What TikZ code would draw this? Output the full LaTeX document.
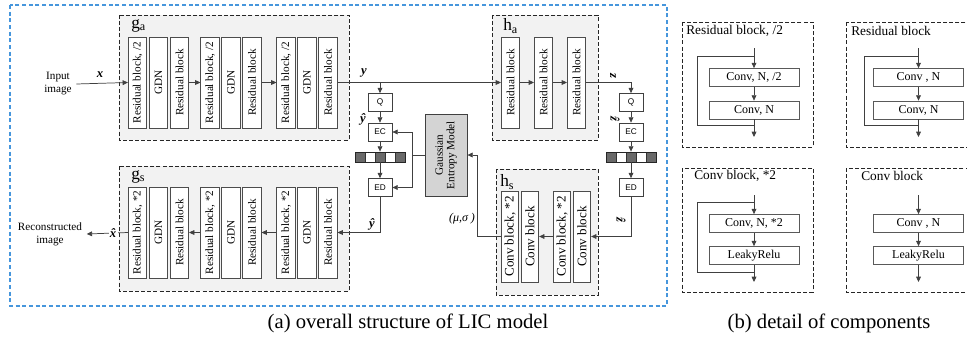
\documentclass[tikz,border=0pt]{standalone}
\usepackage{fontspec}
\setmainfont{Liberation Serif}
\newfontfamily\arialfont{Liberation Sans}
\usetikzlibrary{arrows.meta}
\definecolor{frameblue}{RGB}{70,150,220}
\definecolor{grpgray}{RGB}{242,242,242}
\definecolor{gemgray}{RGB}{212,212,212}
\definecolor{cellgray}{RGB}{105,105,105}

\begin{document}
\begin{tikzpicture}[x=0.75pt,y=-0.75pt,>={Triangle[length=4pt,width=3.6pt]},line join=miter,
  font=\fontsize{8.4}{9.8}\selectfont,
  grp/.style={draw=black!85,dash pattern=on 3pt off 1.6pt,line width=0.65pt,fill=grpgray},
  pnl/.style={draw=black!85,dash pattern=on 3pt off 1.6pt,line width=0.65pt},
  blk/.style={draw=black!70,fill=white,line width=0.5pt,minimum width=13.8pt,minimum height=68.25pt,inner sep=0pt},
  hblk/.style={blk,minimum width=13.2pt,font=\fontsize{9.8}{11}\selectfont},
  cod/.style={draw=black!75,fill=white,line width=0.55pt,minimum width=18pt,minimum height=13.5pt,inner sep=0pt,font=\arialfont\fontsize{6.2}{7}\selectfont},
  gem/.style={draw=black!75,fill=gemgray,line width=0.6pt,minimum width=31.5pt,minimum height=61.5pt,inner sep=0pt},
  cbox/.style={draw=black!65,fill=white,line width=0.55pt,minimum width=67.5pt,minimum height=13.5pt,inner sep=0pt,font=\fontsize{9}{10}\selectfont},
  cell/.style={draw=black!80,line width=0.5pt,fill=cellgray},
  wcell/.style={draw=black!80,line width=0.5pt,fill=white},
  barbox/.style={draw=black!85,line width=0.6pt,minimum width=37.5pt,minimum height=7.5pt,inner sep=0pt},
  var/.style={inner sep=1pt,font=\fontsize{9.5}{11}\selectfont\bfseries\itshape},
  ttl/.style={anchor=west,inner sep=0pt,font=\fontsize{10}{12}\selectfont},
  sub/.style={anchor=west,inner sep=0pt,font=\fontsize{13}{15}\selectfont},
  con/.style={draw=black!75,line width=0.55pt}]
\useasboundingbox (0,0) rectangle (967,339);

% (a) overall structure
\draw[frameblue,line width=0.8pt,dash pattern=on 3pt off 2pt] (10,5) rectangle (667,306);
\draw[grp] (119,15) rectangle (349,140);
\draw[grp] (119,166) rectangle (349,291);
\draw[grp] (492,15) rectangle (598,140);
\draw[grp] (496,169) rectangle (598,295);
\node[sub] (gal) at (131,26) {g\textsubscript{a}};
\node[sub] (gsl) at (131,177) {g\textsubscript{s}};
\node[sub] (hal) at (503,26) {h\textsubscript{a}};
\node[sub] (hsl) at (500,182) {h\textsubscript{s}};

% analysis transform
\node[blk] (ga1) at (137.5,82.5) {\rotatebox{90}{Residual block, /2}};
\node[blk] (ga2) at (158.5,82.5) {\rotatebox{90}{GDN}};
\node[blk] (ga3) at (179.5,82.5) {\rotatebox{90}{Residual block}};
\node[blk] (ga4) at (210,82.5) {\rotatebox{90}{Residual block, /2}};
\node[blk] (ga5) at (231,82.5) {\rotatebox{90}{GDN}};
\node[blk] (ga6) at (252,82.5) {\rotatebox{90}{Residual block}};
\node[blk] (ga7) at (286,82.5) {\rotatebox{90}{Residual block, /2}};
\node[blk] (ga8) at (307,82.5) {\rotatebox{90}{GDN}};
\node[blk] (ga9) at (328,82.5) {\rotatebox{90}{Residual block}};

% synthesis transform
\node[blk] (gs1) at (137.5,232.5) {\rotatebox{90}{Residual block, *2}};
\node[blk] (gs2) at (158.5,232.5) {\rotatebox{90}{GDN}};
\node[blk] (gs3) at (179.5,232.5) {\rotatebox{90}{Residual block}};
\node[blk] (gs4) at (210,232.5) {\rotatebox{90}{Residual block, *2}};
\node[blk] (gs5) at (231,232.5) {\rotatebox{90}{GDN}};
\node[blk] (gs6) at (252,232.5) {\rotatebox{90}{Residual block}};
\node[blk] (gs7) at (286,232.5) {\rotatebox{90}{Residual block, *2}};
\node[blk] (gs8) at (307,232.5) {\rotatebox{90}{GDN}};
\node[blk] (gs9) at (328,232.5) {\rotatebox{90}{Residual block}};

% hyper transforms
\node[blk] (ha1) at (510.5,82.5) {\rotatebox{90}{Residual block}};
\node[blk] (ha2) at (543.5,82.5) {\rotatebox{90}{Residual block}};
\node[blk] (ha3) at (576.5,82.5) {\rotatebox{90}{Residual block}};
\node[hblk] (hs1) at (510,236.5) {\rotatebox{90}{Conv block, *2}};
\node[hblk] (hs2) at (530,236.5) {\rotatebox{90}{Conv block}};
\node[hblk] (hs3) at (562,236.5) {\rotatebox{90}{Conv block, *2}};
\node[hblk] (hs4) at (582,236.5) {\rotatebox{90}{Conv block}};

% coding of y
\node[cod] (q) at (380,102.5) {Q};
\node[cod] (ec) at (380,132) {EC};
\draw[cell] (355,152) rectangle (365,162);
\draw[wcell] (365,152) rectangle (375,162);
\draw[cell] (375,152) rectangle (385,162);
\draw[wcell] (385,152) rectangle (395,162);
\draw[cell] (395,152) rectangle (405,162);
\node[barbox] (bar) at (380,157) {};
\node[cod] (ed) at (380,187.5) {ED};

% coding of z
\node[cod] (q2) at (631,102.5) {Q};
\node[cod] (ec2) at (631,132) {EC};
\draw[cell] (606,152) rectangle (616,162);
\draw[wcell] (616,152) rectangle (626,162);
\draw[cell] (626,152) rectangle (636,162);
\draw[wcell] (636,152) rectangle (646,162);
\draw[cell] (646,152) rectangle (656,162);
\node[barbox] (bar2) at (631,157) {};
\node[cod] (ed2) at (631,187.5) {ED};

\node[gem] (gem) at (446,155) {\rotatebox{90}{\begin{tabular}{@{}c@{}}Gaussian\\[-1pt]Entropy Model\end{tabular}}};

\node[align=center] (inp) at (58,84) {Input\\image};
\node[align=center] (rec) at (50,234) {Reconstructed\\image};

\draw[con,->] (inp.east) -- (ga1.west);
\node[var] at (100,75) {x};
\draw[con,->] (ga3.east) -- (ga4.west);
\draw[con,->] (ga6.east) -- (ga7.west);
\draw[con,->] (ga9.east) -- (ha1.west);
\node[var] at (364,73) {y};
\coordinate (ybr) at (q.north |- ga9.east);
\draw[con,->] (ybr) -- (q.north);
\draw[con,->] (q) -- (ec);
\node[var] at (363,119) {\^{y}};
\draw[con,->] (ec) -- (bar);
\draw[con,->] (bar) -- (ed);
\coordinate (gj) at ([xshift=-9pt]gem.west);
\draw[con] (gem.west) -- (gj);
\draw[con,->] (gj) |- (ec.east);
\draw[con,->] (gj) |- (ed.east);
\draw[con,->] (ed.south) |- (gs9.east);
\node[var] at (372,224) {\^{y}};
\draw[con,->] (gs7.west) -- (gs6.east);
\draw[con,->] (gs4.west) -- (gs3.east);
\draw[con,->] (gs1.west) -- node[var,fill=white,pos=0.36] {\^{x}} (rec.east);

\draw[con,->] (ha1) -- (ha2);
\draw[con,->] (ha2) -- (ha3);
\draw[con,->] (ha3.east) -| (q2.north);
\node[var,rotate=-90] at (613,76) {z};
\draw[con,->] (q2) -- (ec2);
\node[var,rotate=-90] at (615,119) {\^{z}};
\draw[con,->] (ec2) -- (bar2);
\draw[con,->] (bar2) -- (ed2);
\draw[con,->] (ed2.south) |- (hs4.east);
\node[var,rotate=-90] at (621,220) {\^{z}};
\draw[con,->] (hs3.west) -- (hs2.east);
\draw[con,->] (hs1.west) -- ++(-24,0) |- (gem.east);
\node[font=\fontsize{9}{11}\selectfont\itshape] at (462,219) {(μ,σ )};

% (b) components
\draw[pnl] (682,22) rectangle (813,147);
\draw[pnl] (846,22) rectangle (977,147);
\draw[pnl] (682,168) rectangle (813,292);
\draw[pnl] (846,168) rectangle (977,292);
\node[ttl] (t1) at (686,31) {Residual block, /2};
\node[ttl] (t2) at (851,31) {Residual block};
\node[ttl] (t3) at (694,176) {Conv block, *2};
\node[ttl] (t4) at (861,176) {Conv block};

\node[cbox] (c1a) at (754,77.5) {Conv, N, /2};
\node[cbox] (c1b) at (754,110) {Conv, N};
\coordinate (i1) at (754,48);
\coordinate (o1) at (754,137);
\coordinate (s1a) at (754,56);
\coordinate (s1b) at (754,125);
\draw[con,->] (i1) -- (c1a);
\draw[con,->] (c1a) -- (c1b);
\draw[con,->] (c1b) -- (o1);
\draw[con] (s1a) -- ++(-57,0) |- (s1b);

\node[cbox] (c2a) at (918.5,77.5) {Conv , N};
\node[cbox] (c2b) at (918.5,110) {Conv, N};
\coordinate (i2) at (918.5,48);
\coordinate (o2) at (918.5,137);
\coordinate (s2a) at (918.5,56);
\coordinate (s2b) at (918.5,125);
\draw[con,->] (i2) -- (c2a);
\draw[con,->] (c2a) -- (c2b);
\draw[con,->] (c2b) -- (o2);
\draw[con] (s2a) -- ++(-54.5,0) |- (s2b);

\node[cbox] (c3a) at (754,223.5) {Conv, N, *2};
\node[cbox] (c3b) at (754,255.5) {LeakyRelu};
\coordinate (i3) at (754,195);
\coordinate (o3) at (754,282);
\coordinate (s3a) at (754,202);
\coordinate (s3b) at (754,272);
\draw[con,->] (i3) -- (c3a);
\draw[con,->] (c3a) -- (c3b);
\draw[con,->] (c3b) -- (o3);
\draw[con] (s3a) -- ++(-57,0) |- (s3b);

\node[cbox] (c4a) at (918.5,223.5) {Conv , N};
\node[cbox] (c4b) at (918.5,255.5) {LeakyRelu};
\coordinate (i4) at (918.5,195);
\coordinate (o4) at (918.5,282);
\draw[con,->] (i4) -- (c4a);
\draw[con,->] (c4a) -- (c4b);
\draw[con,->] (c4b) -- (o4);

\node[font=\fontsize{15.5}{18}\selectfont] (capa) at (408,323) {(a) overall structure of LIC model};
\node[font=\fontsize{15.5}{18}\selectfont] (capb) at (829,323) {(b) detail of components};
\end{tikzpicture}
\end{document}
